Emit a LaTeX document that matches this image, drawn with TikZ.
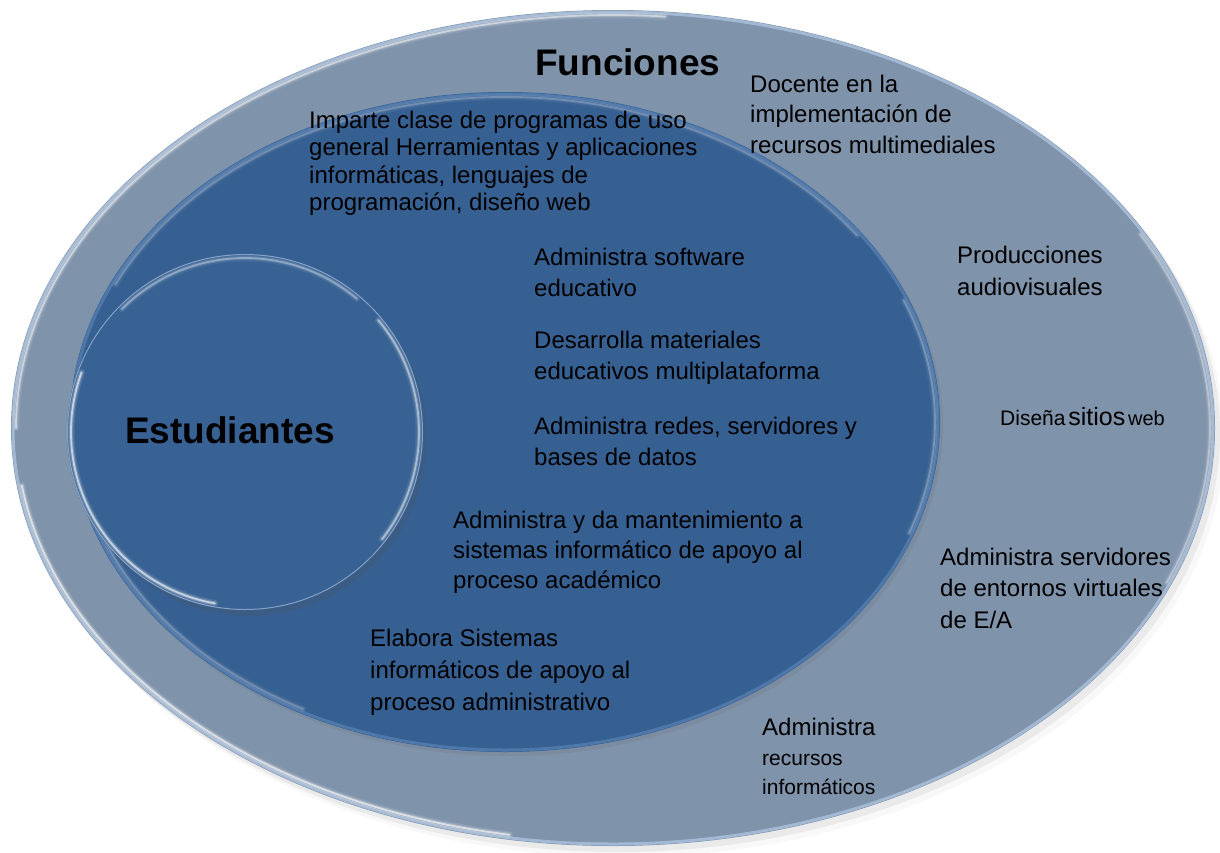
\documentclass[tikz,border=0pt]{standalone}
\usepackage{fontspec}
\setmainfont{Liberation Sans}
\definecolor{ringgray}{HTML}{7F93AB}
\definecolor{midblue}{HTML}{376092}
\definecolor{circblue}{HTML}{386294}
\definecolor{rimlight}{HTML}{A3B8D2}
\definecolor{midrim}{HTML}{4F78AA}
% soft white highlight along an elliptic arc:
% #1 cx, #2 cy, #3 rx, #4 ry, #5 start, #6 end, #7 strength
\newcommand{\glowarc}[7]{%
  \foreach \w/\o in {7/0.10, 4/0.22, 1.8/0.6} {%
    \pgfmathsetmacro\glowop{\o*#7}%
    \draw[white, line cap=round, line width=\w, opacity=\glowop, shift={(#1,#2)}]
      (#5:#3 and #4) arc[start angle=#5, end angle=#6, x radius=#3, y radius=#4];
  }%
}
\begin{document}
\begin{tikzpicture}[x=1pt,y=-1pt,
  lbl/.style={anchor=base west, align=left, inner sep=0pt, text=black,
              font=\fontsize{24}{31}\selectfont},
  tightlbl/.style={lbl, font=\fontsize{24}{27.5}\selectfont},
  titlelbl/.style={anchor=base west, inner sep=0pt, text=black,
              font=\fontsize{37}{44}\selectfont\bfseries},
]
\useasboundingbox (0,0) rectangle (1220,852);

\coordinate (oc) at (613,428);
\coordinate (mc) at (505,422);
\coordinate (cc) at (245,432);

% ---------- outer ellipse ----------
\fill[black!40, opacity=0.16] ([shift={(5,6)}]oc) ellipse[x radius=602, y radius=418];
\fill[black!25, opacity=0.10] ([shift={(9,11)}]oc) ellipse[x radius=602, y radius=418];
\fill[ringgray] (oc) ellipse[x radius=602, y radius=418];
\draw[rimlight, line width=3] (oc) ellipse[x radius=600, y radius=416];
\glowarc{613}{428}{597}{413}{180}{275}{0.8}
\glowarc{613}{428}{597}{413}{100}{172}{1}
\glowarc{613}{428}{597}{413}{-28}{22}{0.55}

% ---------- middle ellipse ----------
\fill[black!60, opacity=0.15] ([shift={(3,4)}]mc) ellipse[x radius=435, y radius=330];
\fill[midblue] (mc) ellipse[x radius=435, y radius=330];
\draw[midrim, line width=3] (mc) ellipse[x radius=433, y radius=328];
\glowarc{505}{422}{430}{325}{205}{325}{0.35}
\glowarc{505}{422}{430}{325}{-22}{20}{0.4}
\glowarc{505}{422}{430}{325}{118}{165}{0.35}

% ---------- circle ----------
\fill[black!70, opacity=0.18] ([shift={(4,6)}]cc) circle[radius=178];
\fill[circblue] (cc) circle[radius=178];
\draw[midrim!70!white, line width=1] (cc) circle[radius=177.5];
\glowarc{245}{432}{174}{174}{100}{200}{1}
\glowarc{245}{432}{174}{174}{225}{310}{0.55}
\glowarc{245}{432}{174}{174}{-40}{38}{0.75}

% ---------- titles ----------
\node[titlelbl] (fun) at (535,75) {Funciones};
\node[titlelbl] (est) at (125,443) {Estudiantes};

% ---------- inner texts (anchor = baseline of last line) ----------
\node[tightlbl] (imp) at (309,210.5) {Imparte clase de programas de uso\\general Herramientas y aplicaciones\\informáticas, lenguajes de\\programación, diseño web};
\node[lbl] (soft) at (534,296) {Administra software\\educativo};
\node[lbl] (mat) at (534,379) {Desarrolla materiales\\educativos multiplataforma};
\node[lbl] (red) at (534,465) {Administra redes, servidores y\\bases de datos};
\node[lbl, font=\fontsize{24}{30}\selectfont] (man) at (453,588) {Administra y da mantenimiento a\\sistemas informático de apoyo al\\proceso académico};
\node[lbl, font=\fontsize{24}{32}\selectfont] (ela) at (370,710) {Elabora Sistemas\\informáticos de apoyo al\\proceso administrativo};

% ---------- outer ring texts ----------
\node[lbl, font=\fontsize{24}{30.5}\selectfont] (doc) at (750,153) {Docente en la\\implementación de\\recursos multimediales};
\node[lbl, font=\fontsize{24}{32}\selectfont] (pro) at (957,295) {Producciones\\audiovisuales};
\node[anchor=base west, inner sep=0pt, text=black] (dis) at (1000,425)
  {{\fontsize{21}{24}\selectfont Diseña} {\fontsize{25}{28}\selectfont sitios} {\fontsize{20}{22}\selectfont web}};
\node[lbl, font=\fontsize{24}{31.5}\selectfont] (srv) at (940,628) {Administra servidores\\de entornos virtuales\\de E/A};
\node[anchor=base west, align=left, inner sep=0pt, text=black, font=\fontsize{21}{29}\selectfont] (rec) at (762,794)
  {{\fontsize{24}{29}\selectfont Administra}\\[1pt]recursos\\informáticos};
\end{tikzpicture}
\end{document}
